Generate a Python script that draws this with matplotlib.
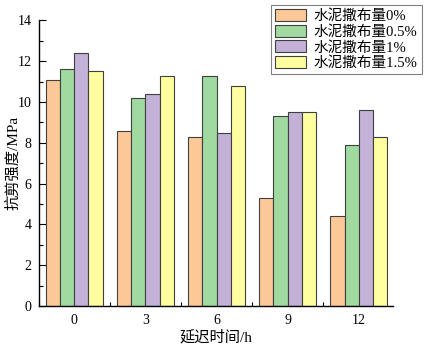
import numpy as np
import matplotlib.pyplot as plt
from matplotlib.ticker import MultipleLocator

plt.rcParams['font.family'] = ['Liberation Serif', 'Noto Sans CJK SC']

# data
times = ['0', '3', '6', '9', '12']
labels = ['水泥撒布量0%', '水泥撒布量0.5%', '水泥撒布量1%', '水泥撒布量1.5%']
s0 = [11.1, 8.6, 8.3, 5.3, 4.4]
s05 = [11.6, 10.2, 11.3, 9.3, 7.9]
s1 = [12.4, 10.4, 8.5, 9.5, 9.6]
s15 = [11.5, 11.3, 10.8, 9.5, 8.3]
colors = ['#FDC897', '#A0DAA0', '#C3B1D7', '#FFFFA0']

fig = plt.figure(figsize=(4.25, 3.47), dpi=100)
ax = fig.add_axes([0.0906, 0.118, 0.8344, 0.823])

x = np.arange(len(times))
w = 0.2
for i, (vals, lab) in enumerate(zip([s0, s05, s1, s15], labels)):
    ax.bar(x + (i - 1.5) * w, vals, w, color=colors[i], edgecolor='#404040',
           linewidth=0.8, label=lab, zorder=2)

ax.set_xlim(-0.5, 4.48)
ax.set_ylim(0, 14)
ax.set_xticks(x)
ax.set_xticklabels(times)
ax.xaxis.set_minor_locator(MultipleLocator(0.5))
ax.yaxis.set_major_locator(MultipleLocator(2))
ax.yaxis.set_minor_locator(MultipleLocator(1))
ax.tick_params(which='both', direction='in', labelsize=10, width=0.8)
ax.tick_params(which='major', length=5)
ax.tick_params(which='minor', length=3)
ax.tick_params(axis='x', pad=6)
ax.tick_params(axis='y', pad=5)
for s in ['top', 'right']:
    ax.spines[s].set_visible(False)
for s in ['left', 'bottom']:
    ax.spines[s].set_linewidth(1.0)

ax.set_xlabel('延迟时间/h', fontsize=11, labelpad=2)
ax.set_ylabel('抗剪强度/MPa', fontsize=11)
ax.yaxis.set_label_coords(-0.052, 0.5)

leg = ax.legend(loc='upper right', bbox_to_anchor=(0.993, 0.986),
                bbox_transform=fig.transFigure, fontsize=10.5, fancybox=False,
                edgecolor='#808080', framealpha=1, borderaxespad=0,
                handlelength=2.1, handleheight=0.9, labelspacing=0.1,
                handletextpad=0.55, borderpad=0.3)
leg.get_frame().set_linewidth(0.8)

fig.savefig('out.png', dpi=100)
